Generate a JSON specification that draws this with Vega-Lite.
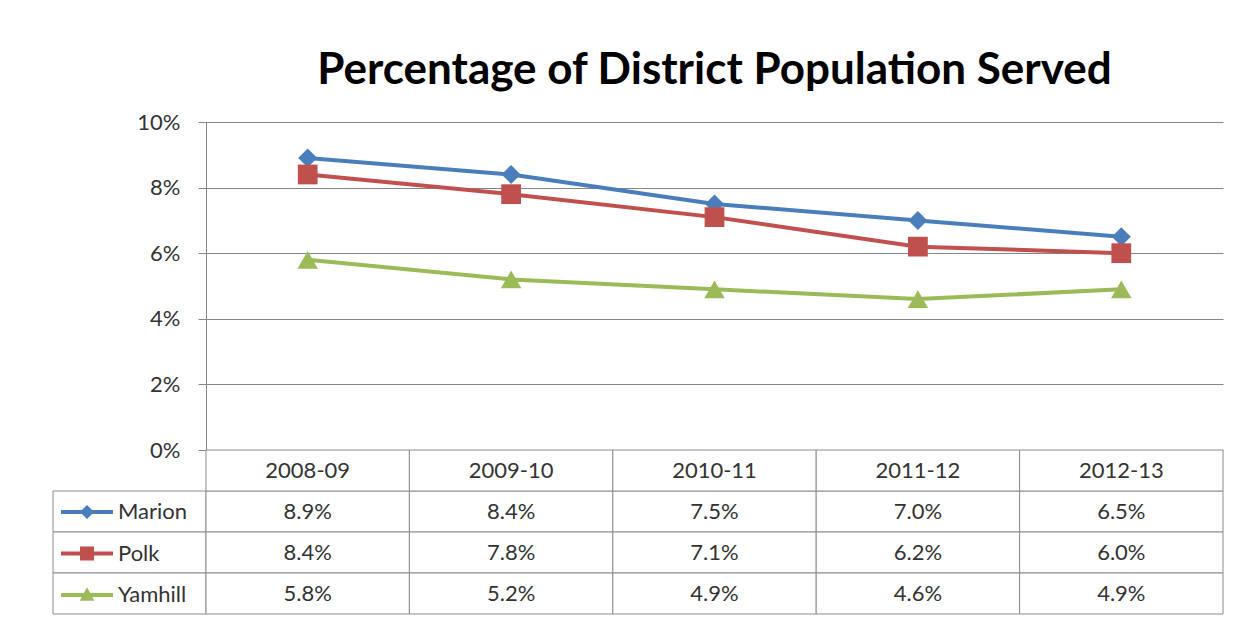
{
  "$schema": "https://vega.github.io/schema/vega-lite/v6.json",
  "background": "white",
  "padding": {"left": 52, "top": 49, "right": 10, "bottom": 4},
  "config": {"view": {"stroke": null}, "font": "Lato"},
  "datasets": {
    "d": [
      {"year": "2008-09", "series": "Marion", "value": 0.089},
      {"year": "2009-10", "series": "Marion", "value": 0.084},
      {"year": "2010-11", "series": "Marion", "value": 0.075},
      {"year": "2011-12", "series": "Marion", "value": 0.070},
      {"year": "2012-13", "series": "Marion", "value": 0.065},
      {"year": "2008-09", "series": "Polk", "value": 0.084},
      {"year": "2009-10", "series": "Polk", "value": 0.078},
      {"year": "2010-11", "series": "Polk", "value": 0.071},
      {"year": "2011-12", "series": "Polk", "value": 0.062},
      {"year": "2012-13", "series": "Polk", "value": 0.060},
      {"year": "2008-09", "series": "Yamhill", "value": 0.058},
      {"year": "2009-10", "series": "Yamhill", "value": 0.052},
      {"year": "2010-11", "series": "Yamhill", "value": 0.049},
      {"year": "2011-12", "series": "Yamhill", "value": 0.046},
      {"year": "2012-13", "series": "Yamhill", "value": 0.049}
    ]
  },
  "columns": 2,
  "bounds": "flush",
  "spacing": 0,
  "resolve": {
    "scale": {"color": "independent", "shape": "independent", "size": "independent"},
    "legend": {"color": "independent", "shape": "independent", "size": "independent"}
  },
  "concat": [
    {
      "width": 153,
      "height": 328,
      "data": {"values": [{"a": 1}]},
      "mark": {"type": "point", "opacity": 0}
    },
    {
      "width": 1017,
      "height": 328,
      "data": {"name": "d"},
      "title": {"text": "Percentage of District Population Served", "fontSize": 44, "font": "Lato", "fontWeight": "bold", "color": "#000000", "offset": 18, "anchor": "middle"},
      "encoding": {
        "x": {"field": "year", "type": "ordinal", "scale": {"type": "point", "padding": 0.5}, "axis": null},
        "y": {"field": "value", "type": "quantitative", "scale": {"domain": [0, 0.1]},
          "axis": {"values": [0, 0.02, 0.04, 0.06, 0.08, 0.1], "format": ".0%", "labelFontSize": 22, "labelColor": "#333333", "labelFont": "Lato", "tickSize": 8, "tickColor": "#868686", "domainColor": "#868686", "gridColor": "#868686", "labelPadding": 18, "title": null, "grid": true}},
        "color": {"field": "series", "type": "nominal", "scale": {"domain": ["Marion", "Polk", "Yamhill"], "range": ["#4a7ebb", "#c0504d", "#9bbb59"]}, "legend": null}
      },
      "layer": [
        {"mark": {"type": "line", "strokeWidth": 4}},
        {"mark": {"type": "point", "filled": true, "opacity": 1},
          "encoding": {
            "shape": {"field": "series", "type": "nominal", "scale": {"domain": ["Marion", "Polk", "Yamhill"], "range": ["diamond", "square", "triangle-up"]}, "legend": null},
            "size": {"field": "series", "type": "nominal", "scale": {"domain": ["Marion", "Polk", "Yamhill"], "range": [360, 420, 360]}, "legend": null}
          }}
      ]
    },
    {
      "width": 153,
      "height": 164,
      "data": {"name": "d"},
      "transform": [{"aggregate": [{"op": "count", "as": "n"}], "groupby": ["series"]}],
      "encoding": {
        "y": {"field": "series", "type": "nominal", "scale": {"domain": ["header", "Marion", "Polk", "Yamhill"], "paddingInner": 0, "paddingOuter": 0}, "axis": null}
      },
      "layer": [
        {"mark": {"type": "rect", "fill": "white", "stroke": "#8c8c8c", "strokeWidth": 1}},
        {"mark": {"type": "point", "filled": true, "opacity": 0},
          "encoding": {
            "color": {"field": "series", "type": "nominal", "scale": {"domain": ["Marion", "Polk", "Yamhill"], "range": ["#4a7ebb", "#c0504d", "#9bbb59"]},
              "legend": {"orient": "none", "legendX": 8, "legendY": 36, "title": null, "symbolSize": 2704, "labelFontSize": 22, "labelColor": "#333333", "labelFont": "Lato", "rowPadding": 4.5, "labelOffset": 5, "symbolOpacity": 1, "symbolStrokeWidth": 0}},
            "shape": {"field": "series", "type": "nominal", "scale": {"domain": ["Marion", "Polk", "Yamhill"], "range": [
              "M-1,-0.077L-0.193,-0.077L0,-0.27L0.193,-0.077L1,-0.077L1,0.077L0.193,0.077L0,0.27L-0.193,0.077L-1,0.077Z",
              "M-1,-0.077L-0.27,-0.077L-0.27,-0.27L0.27,-0.27L0.27,-0.077L1,-0.077L1,0.077L0.27,0.077L0.27,0.27L-0.27,0.27L-0.27,0.077L-1,0.077Z",
              "M-1,-0.077L-0.12,-0.077L0,-0.3L0.12,-0.077L1,-0.077L1,0.077L0.203,0.077L0.28,0.22L-0.28,0.22L-0.203,0.077L-1,0.077Z"
            ]},
              "legend": {"orient": "none", "legendX": 8, "legendY": 36, "title": null, "symbolSize": 2704, "labelFontSize": 22, "labelColor": "#333333", "labelFont": "Lato", "rowPadding": 4.5, "labelOffset": 5, "symbolOpacity": 1, "symbolStrokeWidth": 0}}
          }}
      ]
    },
    {
      "width": 1017,
      "height": 164,
      "data": {"name": "d"},
      "encoding": {
        "x": {"field": "year", "type": "ordinal", "scale": {"type": "band", "paddingInner": 0, "paddingOuter": 0}, "axis": null},
        "y": {"field": "series", "type": "nominal", "scale": {"domain": ["header", "Marion", "Polk", "Yamhill"], "paddingInner": 0, "paddingOuter": 0}, "axis": null}
      },
      "layer": [
        {"mark": {"type": "rect", "fill": "white", "stroke": "#8c8c8c", "strokeWidth": 1}},
        {"mark": {"type": "text", "fontSize": 22, "color": "#333333", "font": "Lato"}, "encoding": {"text": {"field": "value", "type": "quantitative", "format": ".1%"}}},
        {
          "transform": [{"aggregate": [{"op": "count", "as": "n"}], "groupby": ["year"]}],
          "layer": [
            {"mark": {"type": "rect", "fill": "white", "stroke": "#8c8c8c", "strokeWidth": 1}, "encoding": {"y": {"datum": "header"}}},
            {"mark": {"type": "text", "fontSize": 22, "color": "#333333", "font": "Lato"}, "encoding": {"y": {"datum": "header"}, "text": {"field": "year", "type": "nominal"}}}
          ]
        }
      ]
    }
  ]
}
